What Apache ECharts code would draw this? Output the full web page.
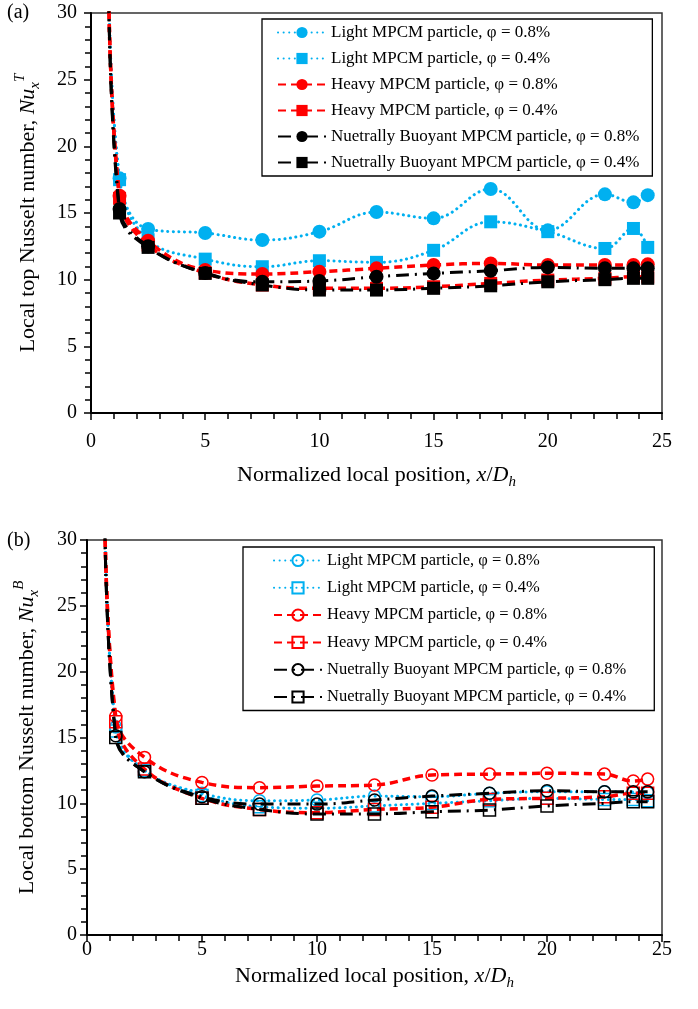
<!DOCTYPE html>
<html>
<head>
<meta charset="utf-8">
<script src="https://cdn.jsdelivr.net/npm/echarts@6/dist/echarts.min.js"></script>
<style>
  html, body { margin: 0; padding: 0; background: #fff; }
  #top { position: absolute; left: 0; top: 0; width: 698px; height: 505px; }
  #bottom { position: absolute; left: 0; top: 505px; width: 698px; height: 504px; }
</style>
</head>
<body>
<div id="top"></div>
<div id="bottom"></div>
<script>
// x positions (x/Dh), shared by every series
const xPos = [0.75, 1.25, 2.5, 5, 7.5, 10, 12.5, 15, 17.5, 20, 22.5, 23.75, 24.375]

const names = [
  'Light MPCM particle, φ = 0.8%',
  'Light MPCM particle, φ = 0.4%',
  'Heavy MPCM particle, φ = 0.8%',
  'Heavy MPCM particle, φ = 0.4%',
  'Nuetrally Buoyant MPCM particle, φ = 0.8%',
  'Nuetrally Buoyant MPCM particle, φ = 0.4%'
]

// (a) local top Nusselt number
const topLight08 = [35, 17.6, 13.8, 13.5, 12.97, 13.6, 15.07, 14.6, 16.8, 13.7, 16.4, 15.8, 16.34]
const topLight04 = [35, 17.5, 13.0, 11.54, 10.97, 11.42, 11.3, 12.2, 14.34, 13.6, 12.34, 13.84, 12.42]
const topHeavy08 = [35, 16.3, 12.92, 10.72, 10.42, 10.6, 10.85, 11.1, 11.22, 11.1, 11.1, 11.1, 11.15]
const topHeavy04 = [35, 16.1, 12.6, 10.5, 9.6, 9.35, 9.35, 9.47, 9.72, 9.97, 10.1, 10.22, 10.2]
const topNB08 = [35, 15.3, 12.5, 10.5, 9.84, 9.9, 10.22, 10.47, 10.67, 10.92, 10.85, 10.85, 10.85]
const topNB04 = [35, 15.0, 12.42, 10.47, 9.6, 9.22, 9.22, 9.35, 9.54, 9.84, 10.0, 10.1, 10.1]

// (b) local bottom Nusselt number
const botLight08 = [35, 15.8, 12.5, 10.76, 10.2, 10.25, 10.55, 10.5, 10.76, 10.88, 10.88, 10.85, 10.8]
const botLight04 = [35, 15.5, 12.5, 10.6, 9.74, 9.62, 9.8, 10.0, 10.2, 10.38, 10.3, 10.3, 10.2]
const botHeavy08 = [35, 16.6, 13.49, 11.59, 11.19, 11.31, 11.39, 12.15, 12.22, 12.28, 12.22, 11.69, 11.84]
const botHeavy04 = [35, 16.2, 12.6, 10.38, 9.54, 9.29, 9.54, 9.7, 10.3, 10.38, 10.5, 10.76, 10.76]
const botNB08 = [35, 15.13, 12.4, 10.5, 9.94, 9.94, 10.25, 10.55, 10.76, 10.96, 10.88, 10.88, 10.88]
const botNB04 = [35, 15.0, 12.4, 10.38, 9.54, 9.19, 9.19, 9.36, 9.49, 9.8, 10.0, 10.12, 10.12]

const FONT = 'Liberation Serif'
const BLUE = '#00B0F0'
const RED = '#FF0000'

const lineTypes = [
  { color: BLUE, width: 3, type: [0.1, 5.5], cap: 'round' },
  { color: BLUE, width: 3, type: [0.1, 5.5], cap: 'round' },
  { color: RED, width: 3.5, type: [8, 5] },
  { color: RED, width: 3.5, type: [8, 5] },
  { color: '#000', width: 3, type: [13, 6, 2, 6] },
  { color: '#000', width: 3, type: [13, 6, 2, 6] }
]
const colors = [BLUE, BLUE, RED, RED, '#000', '#000']
const shapes = ['circle', 'rect', 'circle', 'rect', 'circle', 'rect']

function pairs(vals) {
  return xPos.map((x, i) => [x, vals[i]])
}

function makeSeries(list, hollow) {
  return list.map((vals, i) => ({
    name: names[i],
    type: 'line',
    smooth: 0.4,
    clip: true,
    data: pairs(vals),
    symbol: shapes[i],
    symbolSize: hollow ? 12 : (shapes[i] == 'circle' ? 14 : 13),
    lineStyle: lineTypes[i],
    itemStyle: hollow
      ? { color: 'rgba(0,0,0,0)', borderColor: colors[i], borderWidth: 1.5 }
      : { color: colors[i], borderWidth: 0 },
    z: 2 + i
  }))
}

function axes(cfg) {
  const tickLbl = { fontFamily: FONT, fontSize: 20, color: '#000' }
  return {
    xAxis: [{
      type: 'value', min: 0, max: 25, interval: 5,
      name: '{t|Normalized local position, }{i|x}{t|/}{i|D}{s|h}',
      nameLocation: 'middle', nameGap: cfg.xNameGap,
      nameTextStyle: {
        rich: {
          t: { fontFamily: FONT, fontSize: 22, color: '#000', lineHeight: 30 },
          i: { fontFamily: FONT, fontSize: 22, fontStyle: 'italic', color: '#000', lineHeight: 30 },
          s: { fontFamily: FONT, fontSize: 15, fontStyle: 'italic', color: '#000', verticalAlign: 'bottom', lineHeight: 30 }
        }
      },
      axisLine: { lineStyle: { color: '#000', width: 2 } },
      axisTick: { length: 7, lineStyle: { color: '#000', width: 1.5 } },
      axisLabel: Object.assign({ margin: cfg.xLabelMargin }, tickLbl),
      splitLine: { show: false }
    }, {
      type: 'value', min: 0, max: 25, interval: 5,
      axisLine: { show: false },
      axisTick: { inside: true, length: 6, lineStyle: { color: '#000', width: 1.5 } },
      minorTick: { show: true, splitNumber: 5, length: 6, lineStyle: { color: '#000', width: 1.5 } },
      axisLabel: { show: false },
      splitLine: { show: false }
    }],
    yAxis: [{
      type: 'value', min: 0, max: 30, interval: 5,
      name: cfg.yName,
      nameLocation: 'middle', nameGap: cfg.yNameGap,
      nameTextStyle: {
        rich: {
          t: { fontFamily: FONT, fontSize: 22, color: '#000', lineHeight: 30 },
          i: { fontFamily: FONT, fontSize: 22, fontStyle: 'italic', color: '#000', lineHeight: 30 },
          s: { fontFamily: FONT, fontSize: 15, fontStyle: 'italic', color: '#000', verticalAlign: 'bottom', lineHeight: 30 },
          p: { fontFamily: FONT, fontSize: 15, fontStyle: 'italic', color: '#000', verticalAlign: 'top', lineHeight: 30 }
        }
      },
      axisLine: { lineStyle: { color: '#000', width: 2 } },
      axisTick: { length: 7, lineStyle: { color: '#000', width: 1.5 } },
      axisLabel: Object.assign({ margin: cfg.yLabelMargin }, tickLbl),
      splitLine: { show: false }
    }, {
      type: 'value', min: 0, max: 30, interval: 5,
      axisLine: { show: false },
      axisTick: { inside: true, length: 6, lineStyle: { color: '#000', width: 1.5 } },
      minorTick: { show: true, splitNumber: 5, length: 6, lineStyle: { color: '#000', width: 1.5 } },
      axisLabel: { show: false },
      splitLine: { show: false }
    }]
  }
}

// top chart (a)
const topOpt = Object.assign({
  animation: false,
  grid: { left: 91, top: 13, right: 36, bottom: 92, show: true, borderColor: '#333', borderWidth: 1.5 },
  graphic: [{ type: 'text', left: 7, top: 3, style: { text: '(a)', fontFamily: FONT, fontSize: 20, fill: '#000' } }],
  legend: {
    orient: 'vertical', left: 262, top: 19,
    padding: [5, 13, 5, 15],
    itemWidth: 48, itemHeight: 14, itemGap: 9,
    backgroundColor: '#fff', borderColor: '#000', borderWidth: 1.3,
    textStyle: { fontFamily: FONT, fontSize: 17, color: '#000', lineHeight: 14 },
    data: names
  },
  series: makeSeries([topLight08, topLight04, topHeavy08, topHeavy04, topNB08, topNB04], false)
}, axes({
  xNameGap: 47, xLabelMargin: 19, yLabelMargin: 14, yNameGap: 48,
  yName: '{t|Local top Nusselt number, }{i|Nu}{s|x}{p|T}'
}))

// bottom chart (b)
const botOpt = Object.assign({
  animation: false,
  grid: { left: 87, top: 35, right: 36, bottom: 74, show: true, borderColor: '#333', borderWidth: 1.5 },
  graphic: [{ type: 'text', left: 7, top: 26, style: { text: '(b)', fontFamily: FONT, fontSize: 20, fill: '#000' } }],
  legend: {
    orient: 'vertical', left: 243, top: 42,
    padding: [5, 28, 5, 30],
    itemWidth: 48, itemHeight: 14, itemGap: 10.3,
    backgroundColor: '#fff', borderColor: '#000', borderWidth: 1.3,
    textStyle: { fontFamily: FONT, fontSize: 16.5, color: '#000', lineHeight: 14 },
    data: names
  },
  series: makeSeries([botLight08, botLight04, botHeavy08, botHeavy04, botNB08, botNB04], true)
}, axes({
  xNameGap: 20, xLabelMargin: 5, yLabelMargin: 10, yNameGap: 45,
  yName: '{t|Local bottom Nusselt number, }{i|Nu}{s|x}{p|B}'
}))

echarts.init(document.getElementById('top')).setOption(topOpt)
echarts.init(document.getElementById('bottom')).setOption(botOpt)
</script>
</body>
</html>
